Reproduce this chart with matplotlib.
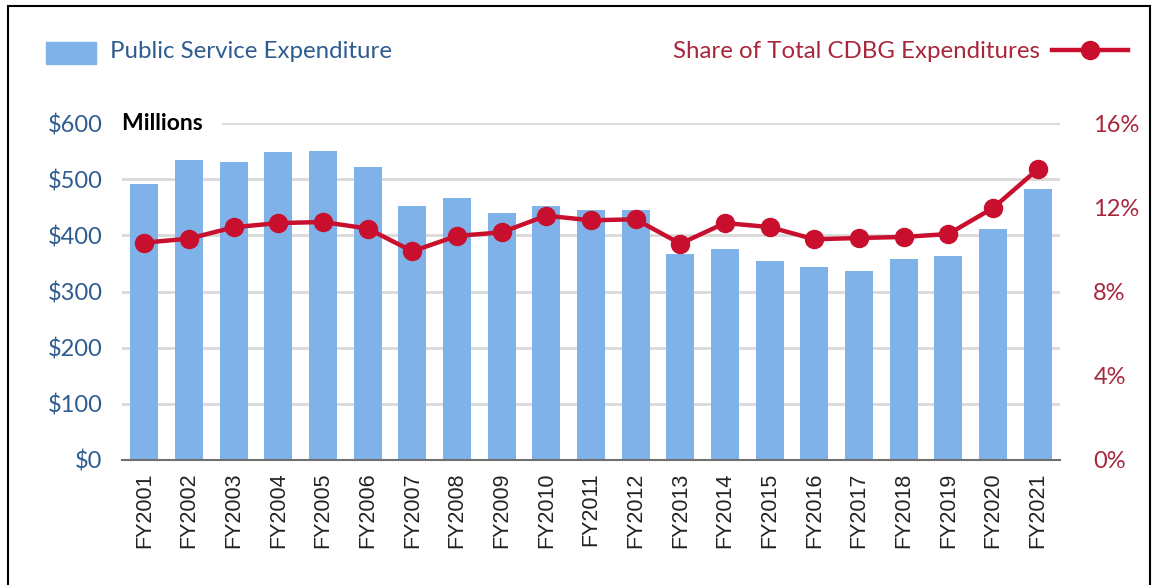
import matplotlib
matplotlib.use("Agg")
import matplotlib.pyplot as plt
from matplotlib.patches import Rectangle
from matplotlib.lines import Line2D

# data
years = ["FY2001", "FY2002", "FY2003", "FY2004", "FY2005", "FY2006", "FY2007",
         "FY2008", "FY2009", "FY2010", "FY2011", "FY2012", "FY2013", "FY2014",
         "FY2015", "FY2016", "FY2017", "FY2018", "FY2019", "FY2020", "FY2021"]
spend = [492, 535, 530, 548, 551, 521, 452, 466, 439, 452, 446,
         446, 366, 375, 354, 343, 336, 357, 364, 411, 482]
share = [10.32, 10.51, 11.05, 11.25, 11.30, 10.99, 9.91, 10.64, 10.81, 11.60, 11.38,
         11.43, 10.27, 11.25, 11.06, 10.48, 10.54, 10.59, 10.73, 11.96, 13.80]
left_ticks = [0, 100, 200, 300, 400, 500, 600]
right_ticks = [0, 4, 8, 12, 16]

bar_col = "#7EB2E8"
line_col = "#C8102E"
blue_txt = "#2F5C8F"
red_txt = "#A8273D"
font = "Lato"

fig = plt.figure(figsize=(11.54, 5.85), dpi=100)
ax = fig.add_axes([0.1057, 0.2137, 0.8128, 0.576])
x = list(range(len(years)))

ax.bar(x, spend, width=0.63, color=bar_col, zorder=2)
ax.set_ylim(0, 600)
ax.set_xlim(-0.5, len(years) - 0.5)
ax.set_yticks(left_ticks)
ax.set_yticklabels(["$%d" % v for v in left_ticks], color=blue_txt,
                   fontsize=17, family=font)
ax.set_xticks(x)
ax.set_xticklabels(years, rotation=90, fontsize=15.5, family="Liberation Sans",
                   color="#222222")
ax.tick_params(length=0, pad=14)
ax.tick_params(axis="x", pad=9)
ax.grid(axis="y", color="#D9D9D9", linewidth=2, zorder=0)
for s in ["top", "left", "right"]:
    ax.spines[s].set_visible(False)
ax.spines["bottom"].set_color("#707070")
ax.spines["bottom"].set_linewidth(1.5)
ax.spines["bottom"].set_zorder(3)

ax2 = ax.twinx()
ax2.plot(x, share, color=line_col, linewidth=3.2, marker="o", markersize=13,
         zorder=4)
ax2.set_ylim(0, 16)
ax2.set_yticks(right_ticks)
ax2.set_yticklabels(["%d%%" % v for v in right_ticks], color=red_txt,
                    fontsize=17, family=font)
ax2.tick_params(length=0, pad=24)
for s in ax2.spines.values():
    s.set_visible(False)

ax.text(0.0, 600, "Millions  ", fontsize=16.5, fontweight="bold", family=font,
        transform=ax.get_yaxis_transform(), va="center", ha="left",
        bbox=dict(facecolor="white", edgecolor="none", pad=6), zorder=5)

# legend drawn by hand to match the layout
fig.patches.append(Rectangle((46 / 1154, 1 - 64 / 585), 50 / 1154, 22 / 585,
                             transform=fig.transFigure, color=bar_col))
fig.text(110 / 1154, 1 - 51 / 585, "Public Service Expenditure", color=blue_txt,
         fontsize=17.3, family=font, va="center", ha="left")
fig.text(1040 / 1154, 1 - 51 / 585, "Share of Total CDBG Expenditures",
         color=red_txt, fontsize=17.3, family=font, va="center", ha="right")
fig.lines.append(Line2D([1052 / 1154, 1128 / 1154], [1 - 50 / 585, 1 - 50 / 585],
                        transform=fig.transFigure, color=line_col, linewidth=3.2))
fig.lines.append(Line2D([1090 / 1154], [1 - 50 / 585], transform=fig.transFigure,
                        color=line_col, marker="o", markersize=13))

# outer frame
fig.patches.append(Rectangle((8 / 1154, -0.01), 1142 / 1154, 1 - 6 / 585 + 0.01,
                             transform=fig.transFigure, fill=False,
                             edgecolor="black", linewidth=1.5))

fig.savefig("out.png", dpi=100)
